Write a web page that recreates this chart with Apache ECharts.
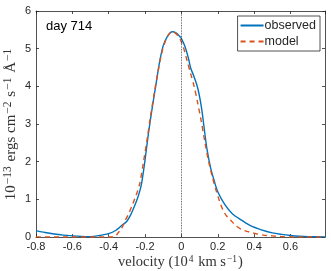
<!DOCTYPE html>
<html><head><meta charset="utf-8">
<script src="https://cdn.jsdelivr.net/npm/echarts@6/dist/echarts.min.js"></script>
<style>html,body{margin:0;padding:0;background:#fff}#c{width:331px;height:271px}</style>
</head><body><div id="c"></div>
<script>
const obsX = [-0.80,-0.75,-0.70,-0.65,-0.60,-0.55,-0.50,-0.45,-0.40,-0.36,-0.33,-0.30,-0.28,-0.26,-0.24,-0.22,-0.20,-0.18,-0.16,-0.14,-0.12,-0.10,-0.08,-0.06,-0.05,-0.03,-0.01,0.00,0.02,0.04,0.05,0.07,0.09,0.11,0.125,0.14,0.16,0.18,0.20,0.24,0.28,0.33,0.38,0.44,0.50,0.55,0.60,0.65,0.70,0.79];
const obsY = [0.17,0.12,0.08,0.05,0.03,0.015,0.01,0.04,0.09,0.18,0.30,0.42,0.58,0.80,1.05,1.40,2.05,2.80,3.45,4.05,4.65,5.08,5.30,5.43,5.45,5.42,5.33,5.27,5.05,4.72,4.50,4.25,3.95,3.45,2.90,2.35,1.85,1.50,1.20,0.85,0.62,0.45,0.30,0.19,0.11,0.07,0.04,0.02,0.01,0.0];
const modX = [-0.80,-0.60,-0.40,-0.37,-0.35,-0.33,-0.31,-0.29,-0.27,-0.25,-0.23,-0.21,-0.19,-0.17,-0.15,-0.13,-0.11,-0.09,-0.07,-0.05,-0.03,-0.01,0.01,0.03,0.05,0.07,0.09,0.11,0.13,0.15,0.17,0.19,0.21,0.23,0.25,0.27,0.30,0.33,0.36,0.40,0.45,0.50,0.55,0.60,0.79];
const modY = [0,0,0,0.0,0.10,0.22,0.43,0.62,0.85,1.10,1.40,1.95,2.55,3.20,3.80,4.35,4.85,5.18,5.38,5.45,5.40,5.28,5.05,4.70,4.35,4.00,3.55,3.05,2.50,2.00,1.60,1.25,0.95,0.70,0.55,0.45,0.30,0.20,0.15,0.10,0.05,0.03,0.01,0,0];
const seriesNames = ['observed','model'];
const panelLabel = 'day 714';
// axis titles as rich text: {s|...} marks superscripts
const xName = 'velocity (10{s|4} km s{s|−1})';
const yName = '10{s|−13} ergs cm{s|−2} s{s|−1} Å{s|−1}';

const axisColor = '#262626';
const chart = echarts.init(document.getElementById('c'));
const pair = (xs, ys) => xs.map((x, i) => [x, ys[i]]);
const nameStyle = (main, sup) => ({color: '#333', fontFamily: 'Liberation Serif', fontSize: main,
  rich: {s: {fontFamily: 'Liberation Serif', fontSize: sup, verticalAlign: 'top', color: '#333', padding: [0, 1, 7, 1]}}});
const baseX = {
  type: 'value', min: -0.8, max: 0.79, interval: 0.2,
  axisLine: {onZero: false, lineStyle: {color: axisColor, width: 0.8}},
  axisTick: {inside: true, length: 3, lineStyle: {color: axisColor, width: 0.8}},
  splitLine: {show: false}
};
const baseY = {
  type: 'value', min: 0, max: 6, interval: 1,
  axisLine: {show: true, onZero: false, lineStyle: {color: axisColor, width: 0.8}},
  axisTick: {show: true, inside: true, length: 3, lineStyle: {color: axisColor, width: 0.8}},
  splitLine: {show: false}
};
chart.setOption({
  animation: false,
  grid: {left: 36, top: 11, right: 6, bottom: 34, containLabel: false, outerBoundsMode: 'none'},
  xAxis: [
    Object.assign({}, baseX, {position: 'bottom',
      axisLabel: {color: axisColor, fontFamily: 'Liberation Sans', fontSize: 11, margin: 4, showMaxLabel: false,
        formatter: v => (Math.abs(v) < 1e-9 ? '0' : String(+v.toFixed(1)))},
      name: xName, nameLocation: 'middle', nameGap: 17, nameMoveOverlap: false, nameTextStyle: nameStyle(14.5, 9.5)}),
    Object.assign({}, baseX, {position: 'top', axisLabel: {show: false}})
  ],
  yAxis: [
    Object.assign({}, baseY, {position: 'left',
      axisLabel: {color: axisColor, fontFamily: 'Liberation Sans', fontSize: 11, margin: 5},
      name: yName, nameLocation: 'middle', nameGap: 15, nameMoveOverlap: false, nameTextStyle: nameStyle(15, 11.5)}),
    Object.assign({}, baseY, {position: 'right', axisLabel: {show: false}})
  ],
  legend: {
    right: 11, top: 16, orient: 'vertical', itemWidth: 23, itemHeight: 10, itemGap: 3,
    backgroundColor: '#fff', borderColor: axisColor, borderWidth: 0.8, borderRadius: 0,
    padding: [3, 4, 3, 2],
    itemStyle: {opacity: 0},
    textStyle: {color: axisColor, fontFamily: 'Liberation Sans', fontSize: 12.5, padding: [0, 0, 0, -4]},
    data: seriesNames
  },
  graphic: [{type: 'text', left: 46, top: 20,
    style: {text: panelLabel, fill: '#000', font: '13px "Liberation Sans"'}}],
  series: [
    {name: seriesNames[0], type: 'line', data: pair(obsX, obsY), smooth: 0.3, showSymbol: false, symbol: 'none',
      lineStyle: {color: '#0072BD', width: 1.4}, itemStyle: {color: '#0072BD'}, z: 3,
      markLine: {silent: true, symbol: 'none', label: {show: false},
        lineStyle: {color: '#333', type: 'dotted', width: 0.8}, data: [{xAxis: 0}]}},
    {name: seriesNames[1], type: 'line', data: pair(modX, modY), smooth: 0.3, showSymbol: false, symbol: 'none',
      lineStyle: {color: '#D95319', width: 1.4, type: [5, 4]}, itemStyle: {color: '#D95319'}, z: 4}
  ]
});
</script></body></html>
